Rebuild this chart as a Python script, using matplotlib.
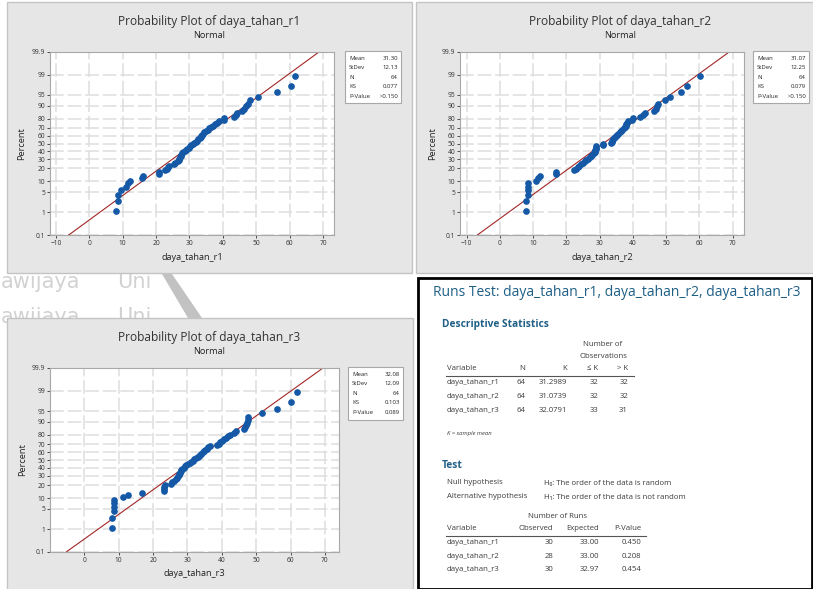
import matplotlib
matplotlib.use('Agg')
import matplotlib.pyplot as plt
from matplotlib.patches import Rectangle, Polygon
import numpy as np
from statistics import NormalDist

# ===== DATA =====
r1 = [8.0, 8.7, 8.7, 9.4, 11.0, 11.6, 12.2, 15.7, 16.2, 21.0,
      21.0, 22.8, 23.2, 23.5, 23.8, 25.3, 25.6, 26.7, 26.9, 27.0,
      27.2, 27.4, 27.6, 27.9, 28.2, 28.6, 29.0, 29.4, 29.8, 30.2,
      30.6, 31.0, 31.4, 31.8, 32.2, 32.6, 33.0, 33.3, 33.5, 33.7,
      34.0, 34.4, 34.9, 35.4, 35.9, 36.5, 37.0, 37.6, 38.2, 38.8,
      40.3, 40.3, 43.4, 43.8, 44.2, 45.6, 46.2, 46.8, 47.4, 48.0,
      50.4, 56.3, 60.3, 61.5]
r2 = [7.8, 7.8, 8.5, 8.5, 8.5, 8.5, 10.8, 11.5, 12.2, 16.8,
      16.8, 22.3, 22.8, 23.4, 23.9, 24.4, 25.0, 25.6, 26.0, 26.5,
      27.0, 27.4, 27.8, 28.2, 28.7, 28.7, 28.7, 28.8, 28.8, 28.9,
      31.1, 31.1, 33.4, 33.6, 33.8, 34.0, 34.3, 34.6, 34.9, 35.2,
      35.6, 36.0, 36.4, 36.8, 37.2, 37.5, 37.8, 38.0, 38.3, 38.6,
      39.6, 40.1, 42.1, 43.1, 43.6, 46.4, 46.8, 47.2, 47.6, 49.6,
      51.2, 54.6, 56.4, 60.1]
r3 = [8.0, 8.0, 8.6, 8.6, 8.6, 8.6, 11.1, 12.8, 16.9, 23.1,
      23.2, 23.3, 23.5, 25.2, 25.6, 26.2, 26.8, 27.0, 27.2, 27.4,
      27.6, 27.8, 28.0, 28.2, 28.5, 28.9, 29.3, 29.7, 30.1, 30.6,
      31.0, 31.5, 32.0, 32.5, 33.0, 33.4, 33.7, 34.0, 34.4, 34.8,
      35.2, 35.6, 36.1, 36.6, 38.6, 39.1, 39.6, 40.1, 40.7, 41.3,
      41.9, 42.5, 43.4, 44.2, 46.4, 46.7, 47.0, 47.3, 47.5, 47.7,
      51.7, 56.2, 60.2, 61.8]

names = ['daya_tahan_r1', 'daya_tahan_r2', 'daya_tahan_r3']
means = [31.30, 31.07, 32.08]
stdevs = [12.13, 12.25, 12.09]
ks = ['0.077', '0.079', '0.103']
pvals = ['>0.150', '>0.150', '0.089']

pct_ticks = [0.1, 1, 5, 10, 20, 30, 40, 50, 60, 70, 80, 90, 95, 99, 99.9]
pct_labels = ['0.1', '1', '5', '10', '20', '30', '40', '50', '60', '70',
              '80', '90', '95', '99', '99.9']

# runs test tables
desc_K = ['31.2989', '31.0739', '32.0791']
desc_le = [32, 32, 33]
desc_gt = [32, 32, 31]
runs_obs = [30, 28, 30]
runs_exp = ['33.00', '33.00', '32.97']
runs_p = ['0.450', '0.208', '0.454']

# ===== FIGURE =====
W, H = 813, 589
fig = plt.figure(figsize=(W / 100, H / 100), dpi=100)
fig.patch.set_facecolor('white')
FONT = ['Open Sans', 'DejaVu Sans']
plt.rcParams['font.family'] = FONT


def fx(x):
    return x / W


def fy(y):
    return 1 - y / H


def box(x0, y0, x1, y1, **kw):
    r = Rectangle((fx(x0), fy(y1)), (x1 - x0) / W, (y1 - y0) / H,
                  transform=fig.transFigure, figure=fig, **kw)
    fig.patches.append(r)


def txt(x, y, s, **kw):
    kw.setdefault('va', 'center')
    fig.text(fx(x), fy(y), s, **kw)


# background watermark (second row sits partly under the lower panel)
for yy in (288, 323):
    txt(1, yy, 'awijaya', fontsize=15, color='#d2d2d2', va='baseline',
        family='DejaVu Sans', zorder=-3)
    txt(117, yy, 'Uni', fontsize=15, color='#d2d2d2', va='baseline',
        family='DejaVu Sans', zorder=-3)
fig.patches.append(Polygon([(fx(162), fy(274)), (fx(172), fy(274)),
                            (fx(202), fy(318)), (fx(188), fy(318))],
                           closed=True, transform=fig.transFigure,
                           facecolor='#c2c2c2', edgecolor='none', zorder=-3))

# panels
box(7, 2, 412, 273, facecolor='#e6e6e6', edgecolor='#c4c4c4', lw=1, zorder=-1)
box(416, 2, 815, 273, facecolor='#e6e6e6', edgecolor='#c4c4c4', lw=1, zorder=-1)
box(7, 318, 413, 592, facecolor='#e6e6e6', edgecolor='#c4c4c4', lw=1, zorder=-1)
box(418, 278, 812, 589, facecolor='white', edgecolor='black', lw=2, zorder=-1)

# ===== PROBABILITY PLOTS =====
nd = NormalDist()
_ppf = np.vectorize(nd.inv_cdf, otypes=[float])
_cdf = np.vectorize(nd.cdf, otypes=[float])


def fwd(p):
    p = np.clip(np.asarray(p, float), 1e-7, 100 - 1e-7)
    return _ppf(p / 100)


def inv(z):
    return _cdf(np.asarray(z, float)) * 100


layout = [
    dict(ax=(50, 52, 334, 235), xlim=(-11.8, 73.3), xt=range(-10, 71, 10),
         leg=(345, 51, 401, 103), tx=209, ty=21, ylab=22, xly=257),
    dict(ax=(460, 52, 744, 235), xlim=(-12.0, 73.4), xt=range(-10, 71, 10),
         leg=(753, 51, 809, 103), tx=620, ty=21, ylab=433, xly=257),
    dict(ax=(50, 368, 339, 552), xlim=(-10.0, 74.1), xt=range(0, 71, 10),
         leg=(348, 367, 403, 420), tx=209, ty=337, ylab=23, xly=573),
]

for k, data in enumerate([r1, r2, r3]):
    L = layout[k]
    x0, y0, x1, y1 = L['ax']
    ax = fig.add_axes([fx(x0), fy(y1), (x1 - x0) / W, (y1 - y0) / H])
    ax.set_yscale('function', functions=(fwd, inv))
    ax.set_ylim(0.1, 99.9)
    ax.set_xlim(*L['xlim'])

    xs = np.sort(np.asarray(data))
    n = len(xs)
    pos = (np.arange(1, n + 1) - 0.3) / (n + 0.4) * 100

    ax.set_yticks(pct_ticks)
    ax.set_yticklabels(pct_labels)
    ax.set_xticks(list(L['xt']))
    ax.yaxis.set_minor_locator(matplotlib.ticker.NullLocator())
    ax.tick_params(labelsize=4.8, length=2, width=0.6, colors='#333333', pad=1.5)
    ax.grid(True, color='#dedede', lw=1.1, ls=(0, (9, 2.5)))
    ax.set_axisbelow(True)
    for s in ax.spines.values():
        s.set_color('#a8a8a8')
        s.set_linewidth(0.8)

    # fitted normal line from the reported mean and stdev
    z = np.linspace(-3.1, 3.1, 50)
    ax.plot(means[k] + stdevs[k] * z, inv(z), color='#a32626', lw=0.8)
    ax.plot(xs, pos, 'o', ms=3.8, color='#1458a6', mec='#1458a6')

    # titles and labels
    tx = L['tx']
    txt(tx, L['ty'], 'Probability Plot of ' + names[k], ha='center',
        fontsize=8.6, color='#333333')
    txt(tx, L['ty'] + 14, 'Normal', ha='center', fontsize=6.6, color='#222222')
    txt(L['ylab'], (y0 + y1) / 2, 'Percent', rotation=90, ha='center',
        fontsize=6.6, color='#222222')
    txt((x0 + x1) / 2, L['xly'], names[k], ha='center', fontsize=6.6,
        color='#222222')

    # statistics box
    lx0, ly0, lx1, ly1 = L['leg']
    box(lx0, ly0, lx1, ly1, facecolor='white', edgecolor='#a8a8a8', lw=0.8, zorder=1)
    rows = [('Mean', f'{means[k]:.2f}'), ('StDev', f'{stdevs[k]:.2f}'),
            ('N', str(n)), ('KS', ks[k]), ('P-Value', pvals[k])]
    for j, (lab, val) in enumerate(rows):
        yy = ly0 + 7 + j * 9.6
        txt(lx0 + 4, yy, lab, fontsize=4.3, color='#222222', zorder=4)
        txt(lx1 - 3, yy, val, ha='right', fontsize=4.3, color='#222222', zorder=4)

# ===== RUNS TEST OUTPUT =====
TEAL = '#1f5f86'
GRAY = '#3c3c3c'
fs_t = 5.6
txt(433, 293, 'Runs Test: daya_tahan_r1, daya_tahan_r2, daya_tahan_r3',
    fontsize=10.0, color=TEAL)
txt(442, 324, 'Descriptive Statistics', fontsize=7.3, color=TEAL,
    fontweight='bold')

txt(603, 344, 'Number of', ha='center', fontsize=fs_t, color=GRAY)
txt(603, 356, 'Observations', ha='center', fontsize=fs_t, color=GRAY)
txt(447, 369, 'Variable', fontsize=fs_t, color=GRAY)
txt(525, 369, 'N', ha='right', fontsize=fs_t, color=GRAY)
txt(567, 369, 'K', ha='right', fontsize=fs_t, color=GRAY)
txt(598, 369, '\u2264 K', ha='right', fontsize=fs_t, color=GRAY)
txt(628, 369, '> K', ha='right', fontsize=fs_t, color=GRAY)
fig.add_artist(plt.Line2D([fx(446), fx(634)], [fy(376), fy(376)],
                          transform=fig.transFigure, color='#555555', lw=0.8))
for j in range(3):
    yy = 383 + j * 13.5
    txt(447, yy, names[j], fontsize=fs_t, color=GRAY)
    txt(525, yy, '64', ha='right', fontsize=fs_t, color=GRAY)
    txt(567, yy, desc_K[j], ha='right', fontsize=fs_t, color=GRAY)
    txt(598, yy, str(desc_le[j]), ha='right', fontsize=fs_t, color=GRAY)
    txt(628, yy, str(desc_gt[j]), ha='right', fontsize=fs_t, color=GRAY)
txt(447, 433, 'K = sample mean', fontsize=4.2, color=GRAY, style='italic')

txt(442, 465, 'Test', fontsize=7.3, color=TEAL, fontweight='bold')
txt(447, 483, 'Null hypothesis', fontsize=fs_t, color=GRAY)
txt(544, 483, 'H\u2080: The order of the data is random', fontsize=fs_t, color=GRAY)
txt(447, 497, 'Alternative hypothesis', fontsize=fs_t, color=GRAY)
txt(544, 497, 'H\u2081: The order of the data is not random', fontsize=fs_t,
    color=GRAY)

txt(557, 517, 'Number of Runs', ha='center', fontsize=fs_t, color=GRAY)
txt(447, 529, 'Variable', fontsize=fs_t, color=GRAY)
txt(553, 529, 'Observed', ha='right', fontsize=fs_t, color=GRAY)
txt(599, 529, 'Expected', ha='right', fontsize=fs_t, color=GRAY)
txt(641, 529, 'P-Value', ha='right', fontsize=fs_t, color=GRAY)
fig.add_artist(plt.Line2D([fx(446), fx(646)], [fy(536), fy(536)],
                          transform=fig.transFigure, color='#555555', lw=0.8))
for j in range(3):
    yy = 543 + j * 13.3
    txt(447, yy, names[j], fontsize=fs_t, color=GRAY)
    txt(553, yy, str(runs_obs[j]), ha='right', fontsize=fs_t, color=GRAY)
    txt(599, yy, runs_exp[j], ha='right', fontsize=fs_t, color=GRAY)
    txt(641, yy, runs_p[j], ha='right', fontsize=fs_t, color=GRAY)

plt.savefig('out.png', dpi=100)
